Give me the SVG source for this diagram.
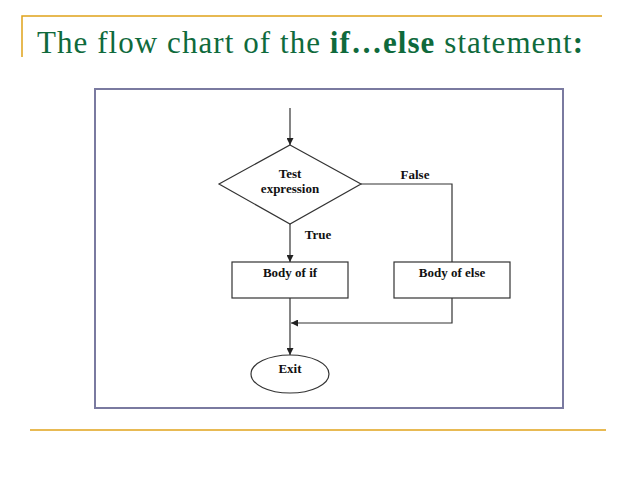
<svg xmlns="http://www.w3.org/2000/svg" width="638" height="478" viewBox="0 0 638 478">
<style>
.rule{stroke:#e0a31a;stroke-width:1.5;fill:none}
.title{font-family:"Liberation Serif",serif;font-size:31px;fill:#0f6a3c}
.shape{fill:#fff;stroke:#333;stroke-width:1.2}
.conn{stroke:#333;stroke-width:1.2;fill:none}
.lbl{font-family:"Liberation Serif",serif;font-size:13px;font-weight:bold;fill:#111;text-anchor:middle}
</style>
<defs>
<marker id="ah" viewBox="0 0 10 10" refX="10" refY="5" markerWidth="7" markerHeight="7" orient="auto" markerUnits="userSpaceOnUse">
<path d="M0,0 L10,5 L0,10 Z" fill="#222"/>
</marker>
</defs>
<rect width="638" height="478" fill="#fff"/>
<path class="rule" d="M22,57 V16 H602"/>
<text class="title" x="37" y="53" textLength="546" lengthAdjust="spacing">The flow chart of the <tspan font-weight="bold">if…else</tspan> statement<tspan font-weight="bold">:</tspan></text>
<rect x="95" y="89" width="468" height="319" fill="#fff" stroke="#7a7aa0" stroke-width="2"/>
<line class="rule" x1="30" y1="430" x2="606" y2="430"/>
<g id="connectors">
<line class="conn" x1="290" y1="108" x2="290" y2="145" marker-end="url(#ah)"/>
<line class="conn" x1="290" y1="224" x2="290" y2="262" marker-end="url(#ah)"/>
<polyline class="conn" points="361,184 452,184 452,262"/>
<polyline class="conn" points="452,298 452,323 291,323" marker-end="url(#ah)"/>
<line class="conn" x1="290" y1="298" x2="290" y2="355" marker-end="url(#ah)"/>
<text class="lbl" x="415" y="179">False</text>
<text class="lbl" x="318" y="239">True</text>
</g>
<g id="test">
<polygon class="shape" points="290,145 361,184 290,224 219,184"/>
<text class="lbl" x="290" y="178">Test</text>
<text class="lbl" x="290" y="193">expression</text>
</g>
<g id="body-if">
<rect class="shape" x="232" y="262" width="116" height="36"/>
<text class="lbl" x="290" y="277">Body of if</text>
</g>
<g id="body-else">
<rect class="shape" x="394" y="262" width="116" height="36"/>
<text class="lbl" x="452" y="277">Body of else</text>
</g>
<g id="exit">
<ellipse class="shape" cx="290" cy="374" rx="39" ry="19"/>
<text class="lbl" x="290" y="373">Exit</text>
</g>
</svg>
